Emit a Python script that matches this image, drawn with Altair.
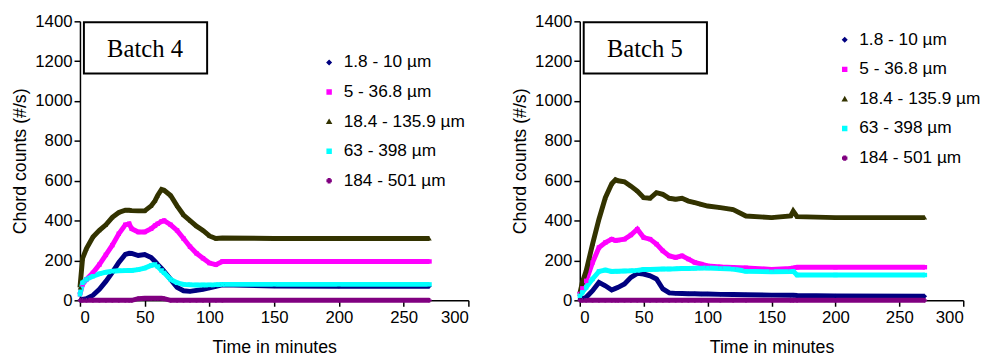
import altair as alt
import pandas as pd

SERIES = ["1.8 - 10 µm", "5 - 36.8 µm", "18.4 - 135.9 µm", "63 - 398 µm", "184 - 501 µm"]
COLORS = ["#000080", "#FF00FF", "#333300", "#00FFFF", "#800080"]
SHAPES = ["diamond", "square", "triangle-up", "square", "cross"]

# ---- Batch 4 ----
t4 = [0, 2, 5, 10, 15, 20, 25, 30, 35, 38, 40, 45, 50, 55, 58, 60, 63, 65, 70, 75,
      80, 85, 90, 95, 100, 105, 110, 150, 200, 270]
navy4 = [0, 5, 8, 25, 55, 95, 140, 190, 230, 236, 235, 225, 230, 215, 195, 180, 160, 145, 105, 65,
         48, 45, 50, 55, 62, 70, 78, 72, 70, 70]
magenta4 = [30, 80, 105, 138, 179, 228, 277, 334, 379, 384, 359, 343, 343, 359, 375, 384, 396, 400, 379, 351,
            310, 269, 236, 211, 187, 179, 195, 195, 195, 195]
olive4 = [64, 210, 260, 318, 351, 379, 416, 441, 452, 452, 450, 449, 449, 474, 500, 526, 556, 552, 526, 474,
          428, 400, 372, 351, 323, 310, 313, 310, 310, 310]
cyan4 = [30, 88, 105, 121, 133, 141, 146, 148, 149, 150, 150, 154, 162, 175, 180, 170, 150, 138, 105, 88,
         80, 78, 77, 77, 77, 78, 80, 80, 80, 80]
purple4 = [0, 0, 0, 0, 0, 0, 0, 0, 0, 0, 0, 8, 10, 10, 10, 10, 10, 8, 0, 0,
           0, 0, 0, 0, 0, 0, 0, 0, 0, 0]

# ---- Batch 5 ----
t5 = [0, 2, 5, 10, 15, 20, 25, 28, 30, 35, 40, 45, 50, 55, 60, 65, 70, 75, 80, 85,
      90, 95, 100, 110, 120, 130, 150, 165, 167, 170, 200, 270]
navy5 = [7, 8, 15, 48, 90, 73, 52, 60, 65, 82, 115, 135, 132, 123, 107, 57, 37, 35, 34, 33,
         33, 32, 32, 30, 29, 28, 26, 25, 25, 24, 22, 20]
magenta5 = [32, 60, 98, 190, 265, 290, 307, 300, 302, 307, 328, 357, 315, 307, 282, 248, 223, 215, 223, 207,
            190, 182, 173, 168, 165, 163, 155, 160, 162, 166, 166, 166]
olive5 = [32, 90, 148, 282, 407, 515, 585, 605, 600, 595, 573, 548, 515, 512, 540, 532, 512, 507, 512, 498,
          490, 482, 473, 465, 455, 423, 415, 423, 447, 420, 415, 415]
cyan5 = [23, 40, 65, 107, 145, 152, 145, 146, 146, 147, 148, 150, 155, 155, 156, 157, 157, 158, 160, 160,
         161, 162, 162, 160, 157, 146, 143, 145, 146, 127, 127, 127]
purple5 = [0, 0, 0, 0, 0, 0, 0, 0, 0, 0, 0, 0, 0, 0, 0, 0, 0, 0, 0, 0,
           0, 0, 0, 0, 0, 0, 0, 0, 0, 0, 0, 0]

FONT = "Liberation Sans"


def long_df(times, series_values):
    rows = []
    for i, (name, vals) in enumerate(zip(SERIES, series_values)):
        for t, v in zip(times, vals):
            rows.append({"time": t, "count": v, "series": name, "k": i})
    return pd.DataFrame(rows)


def panel(df, title, lx, ly, w, h):
    x = alt.X("time:Q", scale=alt.Scale(domain=[0, 300], nice=False),
              axis=alt.Axis(values=list(range(0, 301, 50)), format="d", title="Time in minutes"))
    y = alt.Y("count:Q", scale=alt.Scale(domain=[0, 1400], nice=False),
              axis=alt.Axis(values=list(range(0, 1401, 200)), format="d", title="Chord counts (#/s)"))
    leg = alt.Legend(title=None, orient="none", legendX=lx, legendY=ly)
    color = alt.Color("series:N", scale=alt.Scale(domain=SERIES, range=COLORS), legend=leg)
    shape = alt.Shape("series:N", scale=alt.Scale(domain=SERIES, range=SHAPES), legend=leg)

    lines = alt.Chart(df).mark_line(strokeWidth=5).encode(x=x, y=y, color=color, detail="k:N")
    pts = alt.Chart(df).mark_point(filled=True, size=20, opacity=1).encode(
        x=x, y=y, color=color, shape=shape)

    bdf = pd.DataFrame({"label": [title]})
    box = alt.Chart(bdf).mark_rect(fill="white", stroke="black", strokeWidth=2).encode(
        x=alt.value(4), x2=alt.value(129), y=alt.value(1), y2=alt.value(53))
    txt = alt.Chart(bdf).mark_text(font="Liberation Serif", fontSize=25, color="black").encode(
        x=alt.value(66), y=alt.value(28), text="label:N")

    return alt.layer(lines, pts, box, txt).properties(width=w, height=h)


p4 = panel(long_df(t4, [navy4, magenta4, olive4, cyan4, purple4]), "Batch 4", 244, 33, 394, 283)
p5 = panel(long_df(t5, [navy5, magenta5, olive5, cyan5, purple5]), "Batch 5", 260, 10, 389, 283)

chart = (
    alt.hconcat(p4, p5, spacing=113, bounds="flush")
    .resolve_scale(color="independent", shape="independent")
    .resolve_legend(color="independent", shape="independent")
    .properties(padding={"left": 4, "top": 2, "right": 0, "bottom": 0})
    .configure_axis(domainColor="black", tickColor="black", labelColor="black", titleColor="black",
                    labelFont=FONT, titleFont=FONT, labelFontSize=17, titleFontSize=18,
                    titleFontWeight="normal", grid=False, tickSize=6, domainWidth=1.5, tickWidth=1.5)
    .configure_axisY(labelPadding=2, titlePadding=5)
    .configure_axisX(labelPadding=4, titlePadding=13)
    .configure_legend(labelFont=FONT, labelFontSize=17.5, labelColor="black", symbolSize=16,
                      rowPadding=11, labelOffset=6, padding=0)
    .configure_view(strokeWidth=0)
)

chart.save("out.html", embed_options={"renderer": "svg", "actions": False})
